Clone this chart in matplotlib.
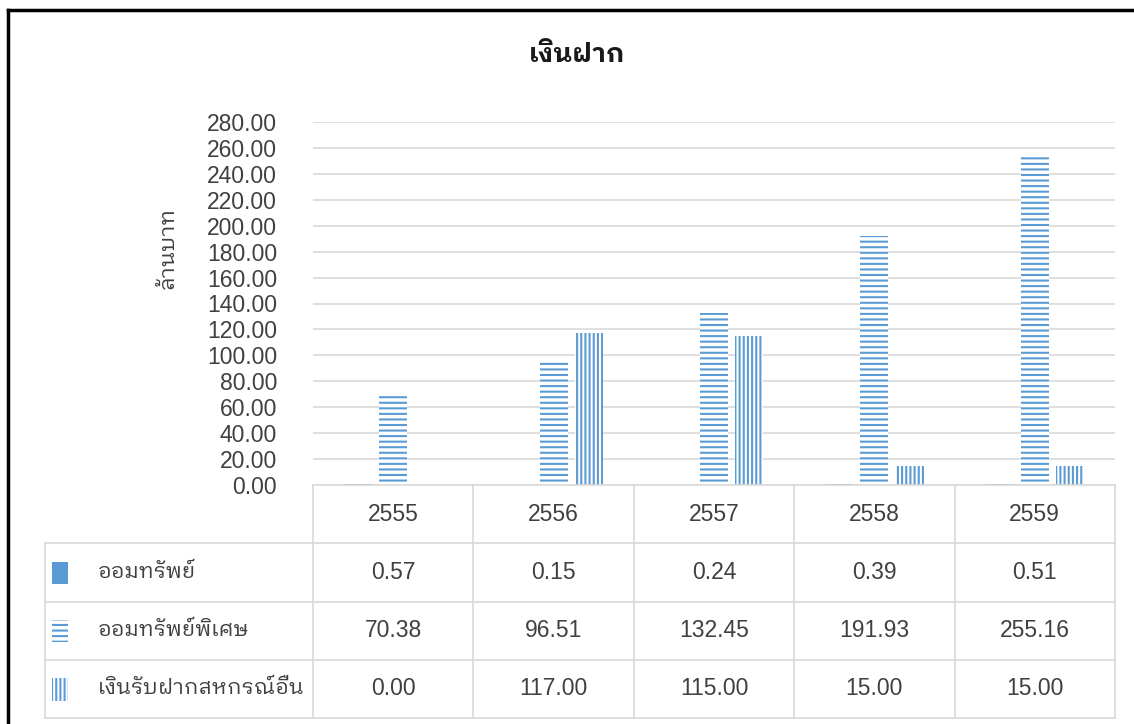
import matplotlib
matplotlib.use('Agg')
import matplotlib.pyplot as plt
from matplotlib import font_manager
from matplotlib.ft2font import FT2Font
from matplotlib.patches import Rectangle
from matplotlib.lines import Line2D
import numpy as np

years = ['2555', '2556', '2557', '2558', '2559']
series_names = ['ออมทรัพย์', 'ออมทรัพย์พิเศษ', 'เงินรับฝากสหกรณ์อื่น']
savings = [0.57, 0.15, 0.24, 0.39, 0.51]
special = [70.38, 96.51, 132.45, 191.93, 255.16]
other_coop = [0.00, 117.00, 115.00, 15.00, 15.00]

# find something that can draw Thai
thai_font = None
for fe in font_manager.fontManager.ttflist:
    if 'Thai' in fe.name:
        thai_font = fe.name
        if 'Looped' in fe.name:
            break
if thai_font is None:
    for fe in font_manager.fontManager.ttflist:
        try:
            if 0x0E01 in FT2Font(fe.fname).get_charmap():
                thai_font = fe.name
                break
        except Exception:
            pass

fams = ['Liberation Sans']
if thai_font:
    fams.append(thai_font)
fams.append('DejaVu Sans')
plt.rcParams['font.family'] = fams
plt.rcParams['hatch.linewidth'] = 1.5

blue = '#5B9BD5'
grid = '#D9D9D9'
txt = '#404040'

fig = plt.figure(figsize=(11.34, 7.24), dpi=100)
ax = fig.add_axes([313 / 1134, 239 / 724, 802 / 1134, 363 / 724])

x = np.arange(len(years))
w = 0.175
off = 0.22
ax.bar(x - off, savings, w, color=blue, linewidth=0)
ax.bar(x, special, w, color='white', edgecolor=blue, hatch='---', linewidth=0)
ax.bar(x + off, other_coop, w, color='white', edgecolor=blue, hatch='||||', linewidth=0)

ax.set_xlim(-0.5, 4.5)
ax.set_ylim(0, 280)
ax.set_yticks(np.arange(0, 281, 20))
ax.set_yticklabels(['%.2f' % v for v in np.arange(0, 281, 20)])
ax.tick_params(axis='y', length=0, pad=26, labelsize=16.5, labelcolor=txt)
ax.set_xticks([])
ax.grid(axis='y', color=grid, linewidth=1.2)
ax.set_axisbelow(True)
for s in ax.spines.values():
    s.set_visible(False)

fig.text(168 / 1134, 1 - 248 / 724, 'ล้านบาท', rotation=90, ha='center', va='center',
         fontsize=16, color=txt)
fig.text(577 / 1134, 1 - 55 / 724, 'เงินฝาก', ha='center', va='center',
         fontsize=19, fontweight='bold', color='#1a1a1a')

# data table under the chart
tax = fig.add_axes([313 / 1134, 6 / 724, 802 / 1134, 233 / 724])
tax.set_xlim(-0.5, 4.5)
tax.set_ylim(4, 0)
tax.axis('off')
left = -0.5 - (313 - 45) / 160.4

tax.plot([-0.5, 4.5], [0, 0], color=grid, lw=1.2, clip_on=False)
for r in range(1, 5):
    tax.plot([left, 4.5], [r, r], color=grid, lw=1.2, clip_on=False)
for k in range(6):
    tax.plot([k - 0.5, k - 0.5], [0, 4], color=grid, lw=1.2, clip_on=False)
tax.plot([left, left], [1, 4], color=grid, lw=1.2, clip_on=False)

for i, yr in enumerate(years):
    tax.text(i, 0.5, yr, ha='center', va='center', fontsize=16.5, color=txt)
for r, vals in enumerate([savings, special, other_coop], start=1):
    for i, v in enumerate(vals):
        tax.text(i, r + 0.5, '%.2f' % v, ha='center', va='center', fontsize=16.5, color=txt)

mx = left + 7 / 160.4
mw = 16 / 160.4
styles = [dict(facecolor=blue, linewidth=0),
          dict(facecolor='white', edgecolor=blue, hatch='---', linewidth=0),
          dict(facecolor='white', edgecolor=blue, hatch='||||', linewidth=0)]
for r, (name, st) in enumerate(zip(series_names, styles), start=1):
    tax.add_patch(Rectangle((mx, r + 0.32), mw, 0.38, clip_on=False, **st))
    tax.text(left + 53 / 160.4, r + 0.5, name, ha='left', va='center',
             fontsize=15.5, color=txt)

# black frame on top and left like the screenshot
fig.add_artist(Line2D([8 / 1134, 1], [1 - 10 / 724, 1 - 10 / 724], color='black', lw=2.5))
fig.add_artist(Line2D([8 / 1134, 8 / 1134], [0, 1 - 10 / 724], color='black', lw=2.5))

fig.savefig('out.png', dpi=100)
